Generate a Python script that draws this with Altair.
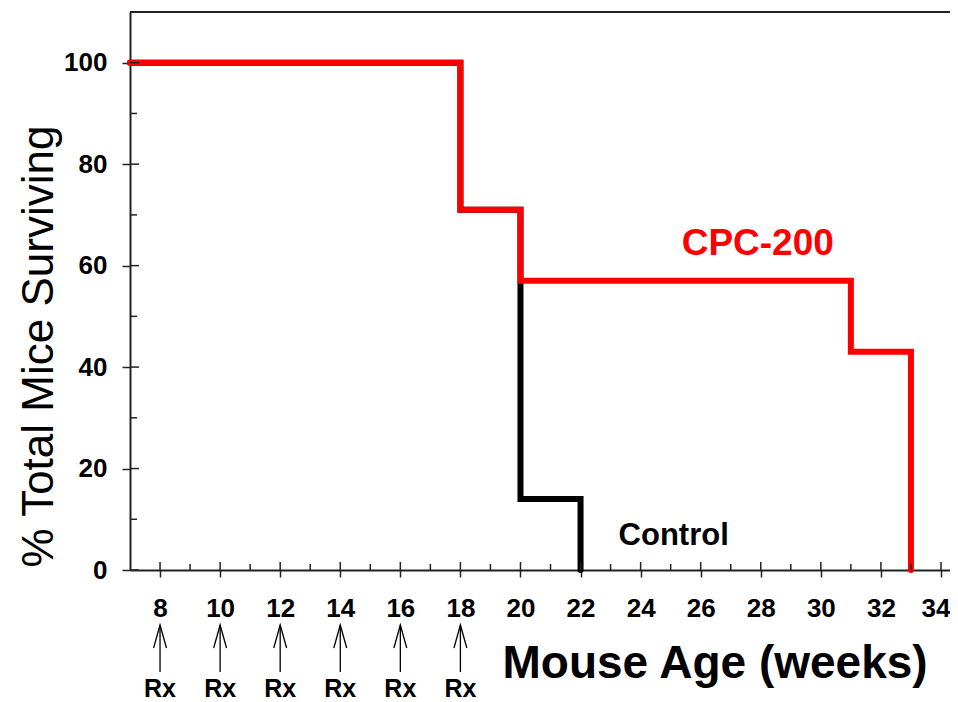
import altair as alt
import pandas as pd

# ---- data ----
control_weeks = [7, 18, 20, 22]
control_surv = [100, 71, 14, 0]
cpc_weeks = [7, 18, 20, 31, 33]
cpc_surv = [100, 71, 57, 43, 0]
rx_weeks = [8, 10, 12, 14, 16, 18]
x_major = list(range(8, 35, 2))
x_minor = list(range(9, 34, 2))
y_major = [0, 20, 40, 60, 80, 100]
y_minor = [10, 30, 50, 70, 90]
series_labels = ["CPC-200", "Control"]
series_label_x = [27.9, 25.1]
series_label_y = [62, 4.9]

W, H = 820, 558
FONT = "Liberation Sans"
xs = alt.Scale(domain=[7, 34.3], nice=False, zero=False)
ys = alt.Scale(domain=[0, 110], nice=False, zero=False)

df_control = pd.DataFrame({"week": control_weeks, "surv": control_surv})
df_cpc = pd.DataFrame({"week": cpc_weeks, "surv": cpc_surv})
df_rx = pd.DataFrame({"week": rx_weeks})
df_xmaj = pd.DataFrame({"week": x_major})
df_xmin = pd.DataFrame({"week": x_minor})
df_ymaj = pd.DataFrame({"surv": y_major})
df_ymin = pd.DataFrame({"surv": y_minor})

x_axis = alt.Axis(
    values=x_major, title="Mouse Age (weeks)", grid=False,
    tickSize=7, tickWidth=1.5, tickColor="#222",
    domainColor="#222", domainWidth=2,
    labelPadding=18, labelFont=FONT, labelFontSize=26, labelFontWeight="bold",
    labelColor="black", labelFlush=False, labelOverlap=False,
    labelAlign=alt.expr("datum.value == 34 ? 'right' : 'center'"),
    labelOffset=alt.expr("datum.value == 34 ? 9 : 0"),
    titleFont=FONT, titleFontSize=46, titleFontWeight="bold", titleColor="black",
    titleX=372, titleY=107, titleAlign="left", titleBaseline="alphabetic",
)
y_axis = alt.Axis(
    values=y_major, title="% Total Mice Surviving", grid=False,
    tickSize=8, tickWidth=1.5, tickColor="#222",
    domainColor="#222", domainWidth=2,
    labelPadding=15, labelFont=FONT, labelFontSize=26, labelFontWeight="bold",
    labelColor="black", labelFlush=False, labelOverlap=False,
    titleFont=FONT, titleFontSize=44, titleFontWeight="normal", titleColor="black",
    titleAngle=270, titleX=-78, titleY=334, titleAlign="center",
    titleBaseline="alphabetic",
)

X = lambda f="week": alt.X(f"{f}:Q", scale=xs, title="Mouse Age (weeks)")
Y = lambda f="surv": alt.Y(f"{f}:Q", scale=ys, title="% Total Mice Surviving")

control = alt.Chart(df_control).mark_line(
    color="black", strokeWidth=6, interpolate="step-after", strokeCap="round"
).encode(
    x=alt.X("week:Q", scale=xs, axis=x_axis),
    y=alt.Y("surv:Q", scale=ys, axis=y_axis),
)
cpc = alt.Chart(df_cpc).mark_line(
    color="#ff0000", strokeWidth=6, interpolate="step-after", strokeCap="round"
).encode(x=X(), y=Y())

xmaj_in = alt.Chart(df_xmaj).mark_rule(color="#222", strokeWidth=1.5).encode(
    x=X(), y=alt.value(H - 8), y2=alt.value(H)
)
xmin_in = alt.Chart(df_xmin).mark_rule(color="#222", strokeWidth=1.5).encode(
    x=X(), y=alt.value(H - 6), y2=alt.value(H)
)
ymaj_in = alt.Chart(df_ymaj).mark_rule(color="#222", strokeWidth=1.5).encode(
    y=Y(), x=alt.value(0), x2=alt.value(9)
)
ymin_in = alt.Chart(df_ymin).mark_rule(color="#222", strokeWidth=1.5).encode(
    y=Y(), x=alt.value(0), x2=alt.value(7)
)
top_border = alt.Chart(df_xmaj.head(1)).mark_rule(color="#222", strokeWidth=2).encode(
    x=alt.value(0), x2=alt.value(W), y=alt.value(0)
)

shafts = alt.Chart(df_rx).mark_rule(color="black", strokeWidth=1.3).encode(
    x=X(), y=alt.value(613), y2=alt.value(660)
)
heads = alt.Chart(df_rx).mark_point(
    shape="M -0.28 1 L 0 0 L 0.28 1", size=2116, filled=False,
    color="black", strokeWidth=1.3, opacity=1
).encode(x=X(), y=alt.value(613))
rx_text = alt.Chart(df_rx).mark_text(
    text="Rx", font=FONT, fontSize=25, fontWeight="bold",
    baseline="alphabetic", align="center", color="black"
).encode(x=X(), y=alt.value(685))

df_lab = pd.DataFrame({"lab": series_labels, "week": series_label_x, "surv": series_label_y})
cpc_lab = alt.Chart(df_lab.iloc[[0]]).mark_text(
    font=FONT, fontSize=37, fontWeight="bold", color="#ff0000",
    baseline="alphabetic", align="center"
).encode(x=X(), y=Y(), text="lab:N")
ctl_lab = alt.Chart(df_lab.iloc[[1]]).mark_text(
    font=FONT, fontSize=31, fontWeight="bold", color="black",
    baseline="alphabetic", align="center"
).encode(x=X(), y=Y(), text="lab:N")

chart = alt.layer(
    control, cpc, xmaj_in, xmin_in, ymaj_in, ymin_in, top_border,
    shafts, heads, rx_text, cpc_lab, ctl_lab
).properties(
    width=W, height=H,
    autosize=alt.AutoSizeParams(type="none"),
    padding={"left": 122, "top": 4, "right": 0, "bottom": 134},
).configure_view(stroke=None).configure(background="white")

chart.save("out.html", embed_options={"renderer": "svg", "actions": False})
